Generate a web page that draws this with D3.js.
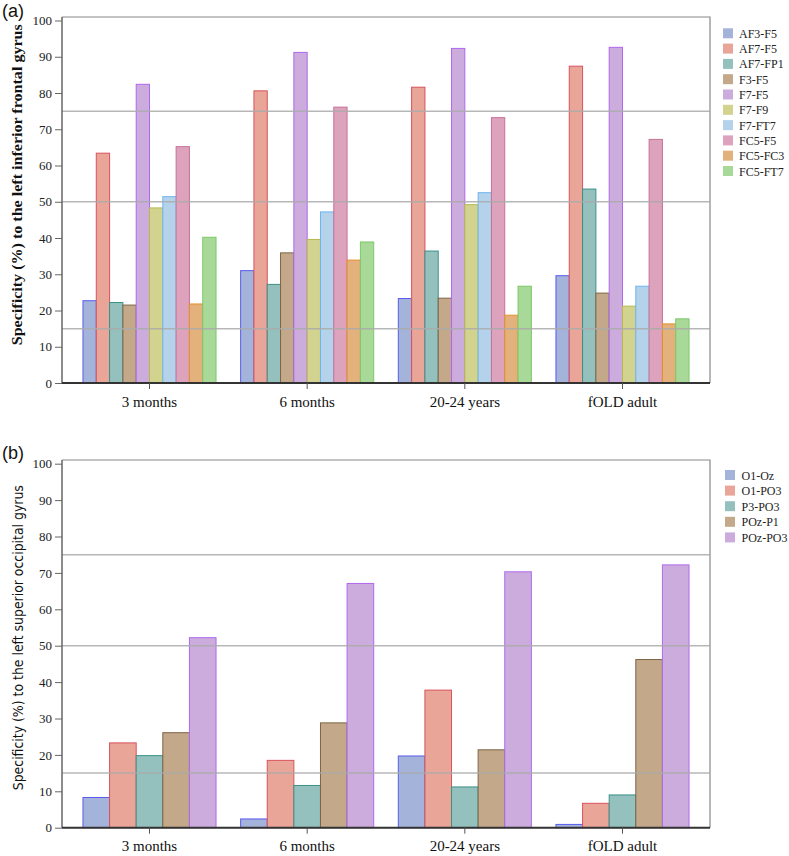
<!DOCTYPE html>
<html><head><meta charset="utf-8">
<script src="https://cdn.jsdelivr.net/npm/d3@7"></script>
<style>body{margin:0;background:#fff}svg{display:block}</style>
</head><body>
<svg id="chart" width="789" height="856"></svg>
<script>
const categories = ["3 months", "6 months", "20-24 years", "fOLD adult"];
const yTicks = [0,10,20,30,40,50,60,70,80,90,100];
const refLines = [15, 50, 75];

const seriesA = ["AF3-F5","AF7-F5","AF7-FP1","F3-F5","F7-F5","F7-F9","F7-FT7","FC5-F5","FC5-FC3","FC5-FT7"];
// values per series, one per category
const valuesA = [
  [22.7, 31.0, 23.3, 29.6],
  [63.4, 80.6, 81.6, 87.4],
  [22.2, 27.2, 36.4, 53.5],
  [21.5, 35.9, 23.4, 24.8],
  [82.4, 91.2, 92.3, 92.6],
  [48.3, 39.6, 49.2, 21.2],
  [51.4, 47.2, 52.5, 26.7],
  [65.2, 76.1, 73.2, 67.2],
  [21.8, 33.9, 18.7, 16.3],
  [40.2, 38.9, 26.7, 17.7]
];
const seriesB = ["O1-Oz","O1-PO3","P3-PO3","POz-P1","POz-PO3"];
const valuesB = [
  [8.3, 2.4, 19.7, 0.9],
  [23.3, 18.5, 37.8, 6.7],
  [19.8, 11.6, 11.2, 9.0],
  [26.1, 28.8, 21.4, 46.2],
  [52.2, 67.1, 70.3, 72.2]
];
const fillA = ["#a3b3da","#e8a598","#94c1bd","#c3a98a","#cbacdc","#d2d38e","#b4d3ea","#dda3bc","#e2b17c","#a8d999"];
const strokeA = ["#5a5aee","#d9525e","#3c9088","#7d6446","#b068ee","#b8b850","#6db5f0","#c8709a","#e3902a","#7cc86a"];

const svg = d3.select("#chart");

function panel(cfg) {
  const {series, values, top, y0, y100, label, tag, labelFont, labelWeight, labelSize, labelLen, labelX, legendY, legendStep, legendSqX, legendTxtX, tagBase} = cfg;
  const left = 62, right = 710;
  const g = svg.append("g");
  const x0 = d3.scaleBand().domain(categories).range([left, right]).paddingInner(0.156).paddingOuter(0.133);
  const x1 = d3.scaleBand().domain(series).range([0, x0.bandwidth()]);
  const y = d3.scaleLinear().domain([0, 100]).range([y0, y100]);

  // frame top & right
  g.append("path").attr("d", `M${left},${top}H${right}V${y0}`).attr("fill","none").attr("stroke","#888").attr("stroke-width",1.2);

  // bars
  series.forEach((s, i) => {
    g.selectAll(null).data(values[i]).enter().append("rect")
      .attr("x", (d, j) => x0(categories[j]) + x1(s))
      .attr("y", d => y(d))
      .attr("width", x1.bandwidth())
      .attr("height", d => y(0) - y(d))
      .attr("fill", fillA[i]).attr("stroke", strokeA[i]).attr("stroke-width", 1);
  });

  // reference lines
  g.selectAll(null).data(refLines).enter().append("line")
    .attr("x1", left).attr("x2", right).attr("y1", d => y(d)).attr("y2", d => y(d))
    .attr("stroke", "#aaaaaa").attr("stroke-opacity", 0.85).attr("stroke-width", 1.5);

  // y axis
  const ya = g.append("g").attr("transform", `translate(${left},0)`)
    .call(d3.axisLeft(y).tickValues(yTicks).tickSize(7).tickSizeOuter(0).tickPadding(3));
  ya.attr("font-family", "Liberation Serif");
  ya.select(".domain").attr("stroke", "#666").attr("stroke-width", 1.5).attr("d", `M0,${y0}V${top}`);
  ya.selectAll(".tick line").attr("stroke", "#666");
  ya.selectAll("text").attr("font-family", "Liberation Serif").attr("font-size", 13).attr("fill", "#222");

  // x axis
  const xa = g.append("g").attr("transform", `translate(0,${y0})`)
    .call(d3.axisBottom(x0).tickSize(6).tickSizeOuter(0).tickPadding(7));
  xa.attr("font-family", "Liberation Serif");
  xa.select(".domain").attr("stroke", "#333").attr("stroke-width", 2).attr("d", `M${left},0H${right}`);
  xa.selectAll(".tick line").attr("stroke", "#555");
  xa.selectAll("text").attr("font-family", "Liberation Serif").attr("font-size", 15).attr("fill", "#111");

  // y label
  g.append("text").attr("transform", `translate(${labelX},${(y0 + y100) / 2 + cfg.labelShift}) rotate(-90)`)
    .attr("text-anchor", "middle").attr("font-family", labelFont).attr("font-weight", labelWeight)
    .attr("font-size", labelSize).attr("textLength", labelLen).attr("lengthAdjust", "spacingAndGlyphs")
    .attr("fill", "#111").text(label);

  // tag
  g.append("text").attr("x", 2).attr("y", tagBase).attr("font-family", "Liberation Sans").attr("font-size", 18).attr("fill", "#111").text(tag);

  // legend
  const lg = g.append("g");
  series.forEach((s, i) => {
    const cy = legendY + i * legendStep;
    lg.append("rect").attr("x", legendSqX).attr("y", cy - 5).attr("width", 10).attr("height", 10).attr("fill", fillA[i]);
    lg.append("text").attr("x", legendTxtX).attr("y", cy + 4.5).attr("font-family", "Liberation Serif").attr("font-size", 12).attr("fill", "#222").text(s);
  });
}

panel({series: seriesA, values: valuesA, top: 17, y0: 383, y100: 20.5,
  label: "Specificity (%) to the left inferior frontal gyrus", tag: "(a)",
  labelFont: "Liberation Serif", labelWeight: "bold", labelSize: 15, labelLen: 321, labelX: 22, labelShift: -17,
  legendY: 33.3, legendStep: 15.3, legendSqX: 723, legendTxtX: 739, tagBase: 17});

panel({series: seriesB, values: valuesB, top: 460, y0: 827.7, y100: 463.7,
  label: "Specificity (%) to the left superior occipital gyrus", tag: "(b)",
  labelFont: "DejaVu Sans", labelWeight: "normal", labelSize: 14, labelLen: 305, labelX: 23, labelShift: -8,
  legendY: 475, legendStep: 15.6, legendSqX: 725, legendTxtX: 741.5, tagBase: 459});
</script>
</body></html>
